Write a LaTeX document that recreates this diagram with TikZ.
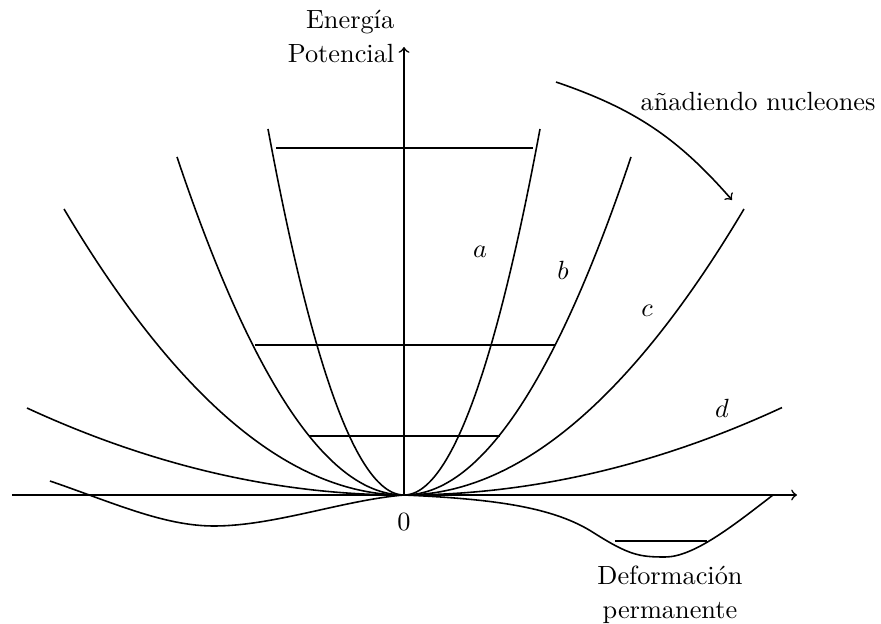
\documentclass[tikz,border=0pt]{standalone}
\usepackage{fontspec}
\begin{document}
\begin{tikzpicture}[x=0.38pt,y=0.38pt,line width=0.6pt]
\useasboundingbox (-404,-128) rectangle (477,495);
% ejes
\draw[->] (-392,0) -- (393,0);
\draw[->] (0,0) -- (0,448);
\node[anchor=south east,align=right,inner sep=0pt] (ep) at (-9,431) {Energ\'{\i}a\\[1pt]Potencial};
\node (cero) at (0,-27) {$0$};
% pozos
\draw[domain=-136:136,samples=120,smooth] plot (\x,{197.9*(\x/100)^2});
\draw[domain=-227:227,samples=120,smooth] plot (\x,{65.6*(\x/100)^2});
\draw[domain=-340:340,samples=120,smooth] plot (\x,{24.74*(\x/100)^2});
\draw[domain=-377:378,samples=120,smooth] plot (\x,{6.12*(\x/100)^2});
% niveles
\draw (-128,347) -- (129,347);
\draw (-149,150) -- (151,150);
\draw (-95,59) -- (96,59);
\node (la) at (76,243) {$a$};
\node (lb) at (159,225) {$b$};
\node (lc) at (243,184) {$c$};
\node (ld) at (318,87) {$d$};
% deformacion permanente
\draw (-354,14) .. controls (-290,-8) and (-240,-31) .. (-190,-31)
  .. controls (-130,-31) and (-60,-5) .. (0,0)
  .. controls (90,-4) and (150,-12) .. (190,-38)
  .. controls (225,-60) and (235,-62) .. (261,-62)
  .. controls (290,-62) and (330,-30) .. (369,0);
\draw (211,-46) -- (303,-46);
\node[align=center,inner sep=0pt] (dp) at (266,-100) {Deformaci\'on\\[1pt]permanente};
% flecha
\coordinate (f1) at (152,413);
\coordinate (f2) at (328,295);
\draw[->] (f1) to[bend left=15] (f2);
\node (an) at (354,393) {a\~nadiendo nucleones};
\end{tikzpicture}
\end{document}
